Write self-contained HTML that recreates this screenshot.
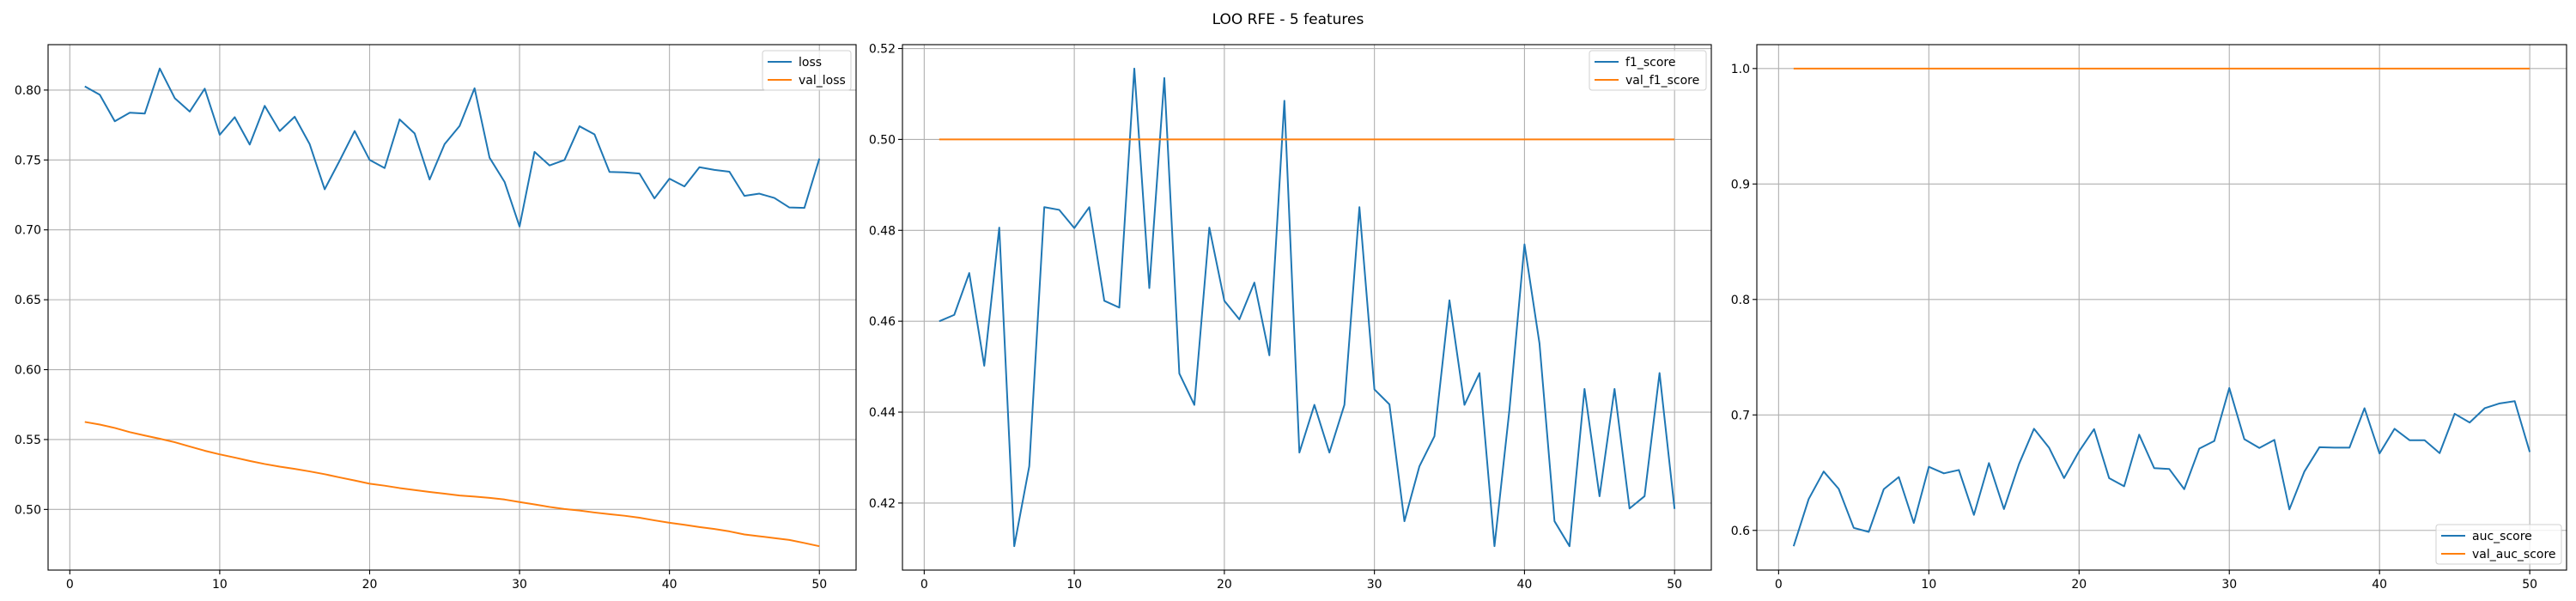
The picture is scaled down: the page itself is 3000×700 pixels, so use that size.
<!DOCTYPE html>
<html><head><meta charset="utf-8"><style>
html,body{margin:0;padding:0;background:#fff;}
svg{display:block;font-family:"DejaVu Sans","Liberation Sans",sans-serif;}
</style></head><body>
<svg id="chart" width="3000" height="700" viewBox="0 0 3000 700" xmlns="http://www.w3.org/2000/svg">
<text x="1500" y="28" text-anchor="middle" font-size="17">LOO RFE - 5 features</text>
</svg>
<script>
const epochs = Array.from({length:50},(_,i)=>i+1);
const lossValues = [0.8026,0.7966,0.7777,0.7838,0.7832,0.8154,0.7942,0.7846,0.8010,0.7680,0.7806,0.7610,0.7887,0.7707,0.7809,0.7613,0.7290,0.7495,0.7707,0.7500,0.7442,0.7790,0.7690,0.7360,0.7613,0.7743,0.8013,0.7516,0.7343,0.7024,0.7558,0.7461,0.7500,0.7741,0.7683,0.7414,0.7411,0.7403,0.7225,0.7366,0.7311,0.7448,0.7429,0.7416,0.7243,0.7259,0.7228,0.7160,0.7157,0.7510];
const valLossValues = [0.5626,0.5607,0.5583,0.5553,0.5529,0.5506,0.5481,0.5450,0.5420,0.5394,0.5371,0.5347,0.5325,0.5306,0.5290,0.5272,0.5252,0.5229,0.5207,0.5184,0.5170,0.5153,0.5139,0.5125,0.5113,0.5100,0.5092,0.5083,0.5071,0.5053,0.5036,0.5018,0.5003,0.4992,0.4978,0.4966,0.4955,0.4941,0.4922,0.4905,0.4890,0.4874,0.4860,0.4843,0.4821,0.4808,0.4795,0.4782,0.4760,0.4737];
const f1Values = [0.4600,0.4614,0.4706,0.4502,0.4806,0.4105,0.4281,0.4851,0.4845,0.4805,0.4851,0.4645,0.4630,0.5156,0.4673,0.5135,0.4485,0.4416,0.4806,0.4645,0.4604,0.4685,0.4525,0.5085,0.4311,0.4416,0.4311,0.4416,0.4851,0.4450,0.4417,0.4160,0.4281,0.4347,0.4646,0.4416,0.4486,0.4105,0.4406,0.4769,0.4551,0.4160,0.4105,0.4451,0.4215,0.4451,0.4188,0.4215,0.4486,0.4187];
const valF1Values = Array(50).fill(0.5);
const aucValues = [0.5863,0.6271,0.6510,0.6360,0.6022,0.5987,0.6357,0.6462,0.6064,0.6551,0.6494,0.6523,0.6134,0.6583,0.6185,0.6574,0.6880,0.6717,0.6453,0.6685,0.6877,0.6453,0.6382,0.6829,0.6539,0.6532,0.6357,0.6708,0.6774,0.7233,0.6790,0.6714,0.6784,0.6182,0.6510,0.6720,0.6717,0.6717,0.7058,0.6666,0.6880,0.6781,0.6781,0.6669,0.7010,0.6934,0.7058,0.7100,0.7119,0.6679];
const valAucValues = Array(50).fill(1.0);
const xTicks = [0,10,20,30,40,50];
const lossTicks = ["0.50","0.55","0.60","0.65","0.70","0.75","0.80"];
const f1Ticks = ["0.42","0.44","0.46","0.48","0.50","0.52"];
const aucTicks = ["0.6","0.7","0.8","0.9","1.0"];

const NS="http://www.w3.org/2000/svg";
const svg=document.getElementById('chart');
function mk(tag,attrs,parent){const e=document.createElementNS(NS,tag);for(const k in attrs)e.setAttribute(k,attrs[k]);(parent||svg).appendChild(e);return e;}

function panel(key,L,R,series,names,yTicks,legendPos){
  const T=52,B=664;
  const g=mk('g',{});
  
  
  const xmin=1,xmax=50,xm=(xmax-xmin)*0.05;
  const all=series.flat();let lo=Math.min(...all),hi=Math.max(...all);const ym=(hi-lo)*0.05;lo-=ym;hi+=ym;
  const X=v=>L+(v-(xmin-xm))/((xmax+xm)-(xmin-xm))*(R-L);
  const Y=v=>B-(v-lo)/(hi-lo)*(B-T);
  xTicks.forEach(t=>{const x=X(t);
    const gl=mk('line',{x1:x,x2:x,y1:T,y2:B,stroke:'#b0b0b0','stroke-width':1.1},g);
    
    
    mk('line',{x1:x,x2:x,y1:B,y2:B+5,stroke:'#000','stroke-width':1.1},g);
    const tx=mk('text',{x:x,y:B+21,'text-anchor':'middle','font-size':14},g);tx.textContent=t;
    
    
  });
  yTicks.forEach(t=>{const y=Y(parseFloat(t));
    const gl=mk('line',{x1:L,x2:R,y1:y,y2:y,stroke:'#b0b0b0','stroke-width':1.1},g);
    
    
    mk('line',{x1:L-5,x2:L,y1:y,y2:y,stroke:'#000','stroke-width':1.1},g);
    const tx=mk('text',{x:L-8,y:y+5,'text-anchor':'end','font-size':14},g);tx.textContent=t;
    
    
  });
  const colors=['#1f77b4','#ff7f0e'];
  series.forEach((s,i)=>{
    const p=mk('polyline',{points:s.map((v,j)=>X(epochs[j])+','+Y(v)).join(' '),fill:'none',stroke:colors[i],'stroke-width':2,'stroke-linejoin':'round'},g);
    
    
  });
  mk('rect',{x:L,y:T,width:R-L,height:B-T,fill:'none',stroke:'#000','stroke-width':1.1},g);
  const lw=legendPos.w,lh=46,lx=R-lw-6,ly=legendPos.top?T+7:B-lh-7;
  const lg=mk('g',{},g);
  
  
  mk('rect',{x:lx,y:ly,width:lw,height:lh,rx:3,fill:'#fff','fill-opacity':0.8,stroke:'#d0d0d0','stroke-width':1},lg);
  names.forEach((n,i)=>{const yy=ly+13+i*21;
    mk('line',{x1:lx+6,x2:lx+34,y1:yy,y2:yy,stroke:colors[i],'stroke-width':2},lg);
    const tx=mk('text',{x:lx+42,y:yy+5,'font-size':14},lg);tx.textContent=n;
    
    
  });
}
panel('loss',56,997,[lossValues,valLossValues],['loss','val_loss'],lossTicks,{top:true,w:103});
panel('f1',1051,1993,[f1Values,valF1Values],['f1_score','val_f1_score'],f1Ticks,{top:true,w:136});
panel('auc',2046,2989,[aucValues,valAucValues],['auc_score','val_auc_score'],aucTicks,{top:false,w:146});
</script>
</body></html>
